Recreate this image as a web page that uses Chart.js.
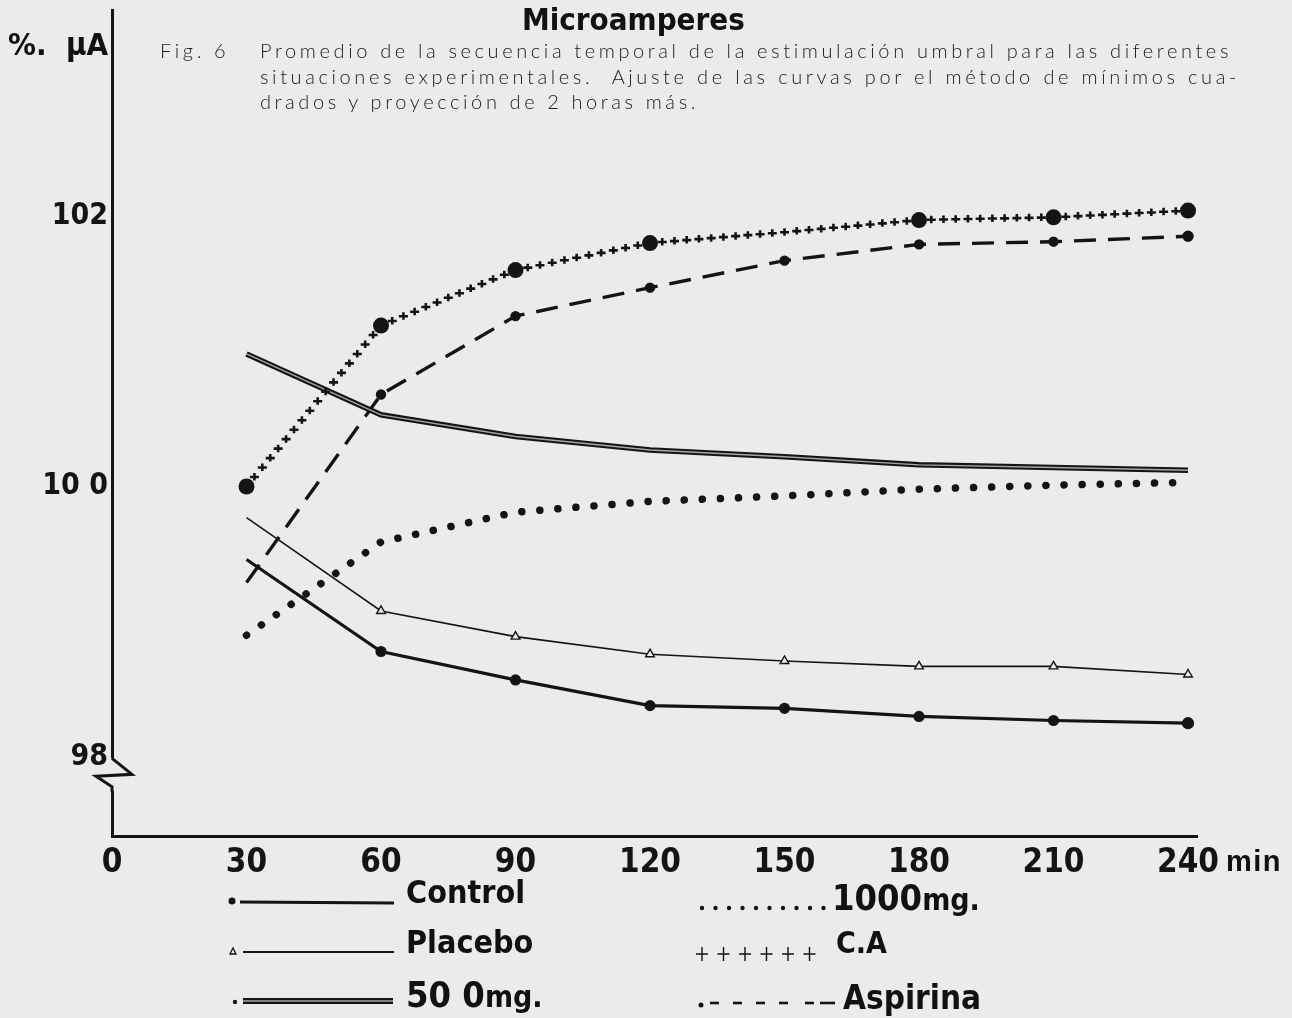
<!DOCTYPE html>
<html>
<head>
<meta charset="utf-8">
<script src="https://cdn.jsdelivr.net/npm/chart.js@4/dist/chart.umd.min.js"></script>
<style>
  html, body { margin: 0; padding: 0; background: #ebebe9; }
  #wrap { position: relative; width: 1292px; height: 1018px; overflow: hidden; }
  #chart { position: absolute; left: 0; top: 0; }
  .t { position: absolute; white-space: nowrap; color: #111; line-height: 1; }
  .bold { font-family: "Liberation Sans Narrow", "DejaVu Sans Condensed", sans-serif; font-weight: bold; }
  .cap { font-family: Lato, "Open Sans", sans-serif; font-weight: 300; font-size: 20px; color: #1a1a1a; letter-spacing: 3.6px; }
  .just { text-align: justify; text-align-last: justify; white-space: normal; }
</style>
</head>
<body>
<div id="wrap">
  <canvas id="chart" width="1292" height="1018"></canvas>

  <div class="t bold" style="left:522px; top:4px; font-size:31px;">Microamperes</div>
  <div class="t bold" style="left:8px; top:29px; font-size:31px;">%.&nbsp; μA</div>

  <div class="t cap" style="left:160px; top:40px;">Fig. 6</div>
  <div class="t cap just" style="left:260px; top:40px; width:972px;">Promedio de la secuencia temporal de la estimulación umbral para las diferentes</div>
  <div class="t cap just" style="left:260px; top:66px; width:980px;">situaciones experimentales.&nbsp; Ajuste de las curvas por el método de mínimos cua-</div>
  <div class="t cap" style="left:260px; top:91px;">drados y proyección de 2 horas más.</div>

  <div class="t" style="left:1226px; top:847px; font-family:'Liberation Sans', sans-serif; font-weight:bold; font-size:29px; letter-spacing:1.5px;">min</div>

  <div class="t bold" style="left:406px; top:876px; font-size:32px;">Control</div>
  <div class="t bold" style="left:406px; top:926px; font-size:32px;">Placebo</div>
  <div class="t bold" style="left:406px; top:977px; font-size:36px;">50 0<span style="font-size:30px">mg.</span></div>
  <div class="t bold" style="left:832px; top:880px; font-size:36px;">1000<span style="font-size:30px">mg.</span></div>
  <div class="t bold" style="left:836px; top:928px; font-size:30px;">C.A</div>
  <div class="t bold" style="left:843px; top:981px; font-size:33px;">Aspirina</div>
</div>

<script>
const minutes = [30, 60, 90, 120, 150, 180, 210, 240];
const xTicks = [0, 30, 60, 90, 120, 150, 180, 210, 240];
const yTicks = [98, 100, 102];
const yTickLabels = { 98: "98", 100: "10 0", 102: "102" };

const control   = [99.46, 98.78, 98.57, 98.38, 98.36, 98.30, 98.27, 98.25];
const placebo   = [99.77, 99.08, 98.89, 98.76, 98.71, 98.67, 98.67, 98.61];
const mg500     = [100.98, 100.53, 100.37, 100.27, 100.22, 100.16, 100.14, 100.12];
const mg1000    = [98.90, 99.59, 99.81, 99.89, 99.93, 99.98, 100.01, 100.03];
const ca        = [100.00, 101.19, 101.60, 101.80, 101.88, 101.97, 101.99, 102.04];
const aspirina  = [99.29, 100.68, 101.26, 101.47, 101.67, 101.79, 101.81, 101.85];

const INK = "#141414";
const PAPER = "#ebebe9";
const boldFont = "'Liberation Sans Narrow', 'DejaVu Sans Condensed', sans-serif";

const pts = (vals) => vals.map((v, i) => ({ x: minutes[i], y: v }));

function plus(c, x, y) {
  c.beginPath();
  c.moveTo(x - 4.5, y); c.lineTo(x + 4.5, y);
  c.moveTo(x, y - 4); c.lineTo(x, y + 3.5);
  c.stroke();
}

// plus signs along the C.A curve
const plusMarks = {
  id: "plusMarks",
  afterDatasetsDraw(chart) {
    const c = chart.ctx;
    chart.data.datasets.forEach((ds, di) => {
      if (!ds.plusMarks) return;
      const el = chart.getDatasetMeta(di).data;
      c.save();
      c.strokeStyle = INK;
      c.lineWidth = 2.6;
      for (let i = 0; i < el.length - 1; i++) {
        const a = el[i], b = el[i + 1];
        const len = Math.hypot(b.x - a.x, b.y - a.y);
        const n = Math.round(len / 12);
        const ra = a.options.radius ? a.options.radius + 3 : 0;
        const rb = b.options.radius ? b.options.radius + 3 : 0;
        for (let k = 1; k < n; k++) {
          const t = k / n;
          const px = a.x + (b.x - a.x) * t, py = a.y + (b.y - a.y) * t;
          if (Math.hypot(px - a.x, py - a.y) < ra || Math.hypot(px - b.x, py - b.y) < rb) continue;
          plus(c, px, py);
        }
        if (!b.options.radius) plus(c, b.x, b.y);
      }
      c.restore();
    });
  }
};

// zigzag break on the y axis under 98
const axisBreak = {
  id: "axisBreak",
  afterDraw(chart) {
    const c = chart.ctx, y = chart.scales.y, x0 = chart.chartArea.left;
    const yTop = y.getPixelForValue(97.99), yBot = y.getPixelForValue(97.75);
    c.save();
    c.fillStyle = PAPER;
    c.fillRect(x0 - 4, yTop, 8, yBot - yTop);
    c.strokeStyle = INK;
    c.lineWidth = 3;
    c.lineJoin = "miter";
    c.beginPath();
    c.moveTo(x0, yTop);
    c.lineTo(x0 + 20, yTop + 16);
    c.lineTo(x0 - 16, yTop + 18);
    c.lineTo(x0, yBot - 4);
    c.lineTo(x0, yBot + 1);
    c.stroke();
    c.restore();
  }
};

// legend samples drawn under the axis
const legendSamples = {
  id: "legendSamples",
  afterDraw(chart) {
    const c = chart.ctx;
    c.save();
    c.strokeStyle = INK; c.fillStyle = INK;
    // Control
    c.beginPath(); c.arc(232, 901, 3.5, 0, Math.PI * 2); c.fill();
    c.lineWidth = 3; c.beginPath(); c.moveTo(240, 902); c.lineTo(394, 903); c.stroke();
    // Placebo
    c.lineWidth = 1.3; c.beginPath(); c.moveTo(230, 954); c.lineTo(236, 954); c.lineTo(233, 948); c.closePath(); c.stroke();
    c.lineWidth = 1.8; c.beginPath(); c.moveTo(243, 952); c.lineTo(394, 952); c.stroke();
    // 500 mg
    c.beginPath(); c.arc(235, 1002, 2.2, 0, Math.PI * 2); c.fill();
    c.lineWidth = 6; c.beginPath(); c.moveTo(243, 1001); c.lineTo(393, 1001); c.stroke();
    c.strokeStyle = "#a6a6a4"; c.lineWidth = 1.4; c.beginPath(); c.moveTo(243, 1001); c.lineTo(393, 1001); c.stroke();
    c.strokeStyle = INK;
    // 1000 mg
    for (let x = 702; x <= 826; x += 13.5) { c.beginPath(); c.arc(x, 908, 2.2, 0, Math.PI * 2); c.fill(); }
    // C.A
    c.lineWidth = 1.4;
    for (let x = 702; x <= 830; x += 21.5) {
      c.beginPath(); c.moveTo(x - 6, 954); c.lineTo(x + 6, 954); c.moveTo(x, 947); c.lineTo(x, 961); c.stroke();
    }
    // Aspirina
    c.beginPath(); c.arc(701, 1005, 2.5, 0, Math.PI * 2); c.fill();
    c.lineWidth = 2.6;
    [[710, 719], [733, 742], [756, 765], [779, 788], [805, 814], [820, 835]].forEach(([a, b]) => {
      c.beginPath(); c.moveTo(a, 1003); c.lineTo(b, 1003); c.stroke();
    });
    c.restore();
  }
};

// Chart.js paints the first dataset last, so the inner stroke of the
// double line has to come before the thick outer one
const data = {
  datasets: [
    {
      label: "Control",
      data: pts(control),
      borderColor: INK, borderWidth: 3.2,
      pointRadius: [0, 4, 4, 4, 4, 4, 4, 4.5], pointBackgroundColor: INK, pointBorderColor: INK,
    },
    {
      label: "Placebo",
      data: pts(placebo),
      borderColor: INK, borderWidth: 1.6,
      pointStyle: "triangle", pointRadius: [0, 5, 5, 5, 5, 5, 5, 5], pointBackgroundColor: PAPER, pointBorderColor: INK, pointBorderWidth: 1.4,
    },
    {
      label: "500 mg. (inner)",
      data: pts(mg500),
      borderColor: "#a6a6a4", borderWidth: 1.4,
      pointRadius: 0,
    },
    {
      label: "500 mg.",
      data: pts(mg500),
      borderColor: INK, borderWidth: 5.5,
      pointRadius: 0,
    },
    {
      label: "1000 mg.",
      data: pts(mg1000),
      borderColor: INK, borderWidth: 7.5, borderDash: [0.1, 18], borderCapStyle: "round",
      pointRadius: 0,
    },
    {
      label: "C.A",
      data: pts(ca),
      borderColor: "rgba(0,0,0,0)", borderWidth: 0,
      pointRadius: [8, 8, 8, 8, 0, 8, 8, 8], pointBackgroundColor: INK, pointBorderColor: INK,
      plusMarks: true,
    },
    {
      label: "Aspirina",
      data: pts(aspirina),
      borderColor: INK, borderWidth: 3.4, borderDash: [22, 12],
      pointRadius: [0, 3.5, 3.5, 3.5, 3.5, 3.5, 3.5, 4], pointBackgroundColor: INK, pointBorderColor: INK,
    },
  ],
};

const config = {
  type: "line",
  data: data,
  plugins: [plusMarks, axisBreak, legendSamples],
  options: {
    responsive: false,
    animation: false,
    layout: { padding: { top: 10, right: 95, left: 0, bottom: 0 } },
    plugins: { legend: { display: false }, tooltip: { enabled: false } },
    elements: { line: { tension: 0 } },
    scales: {
      x: {
        type: "linear", min: 0, max: 242,
        afterBuildTicks: (s) => { s.ticks = xTicks.map((v) => ({ value: v })); },
        afterFit: (s) => { s.height = 182; s.paddingLeft = 0; s.paddingRight = 0; },
        grid: { display: false, drawTicks: false },
        border: { display: true, color: INK, width: 3 },
        ticks: { color: INK, padding: 8, maxRotation: 0, font: { family: boldFont, weight: "bold", size: 33 } },
      },
      y: {
        type: "linear", min: 97.416, max: 103.523,
        afterBuildTicks: (s) => { s.ticks = yTicks.map((v) => ({ value: v })); },
        afterFit: (s) => { s.width = 112; s.paddingTop = 0; s.paddingBottom = 0; },
        grid: { display: false, drawTicks: false },
        border: { display: true, color: INK, width: 3 },
        ticks: {
          color: INK, padding: 4,
          font: { family: boldFont, weight: "bold", size: 30 },
          callback: (v) => yTickLabels[v] || "",
        },
      },
    },
  },
};

const chart = new Chart(document.getElementById("chart"), config);
</script>
</body>
</html>
